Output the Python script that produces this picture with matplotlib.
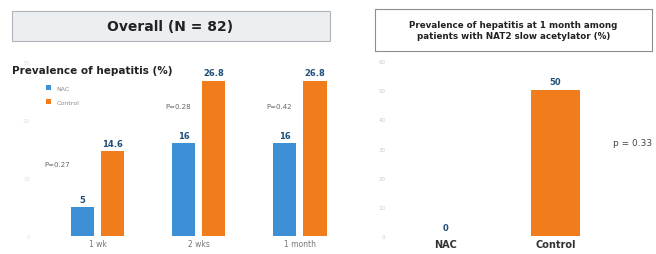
import numpy as np
import matplotlib
matplotlib.use("Agg")
import matplotlib.pyplot as plt
from matplotlib.patches import Rectangle

# data
groups = ["1 wk", "2 wks", "1 month"]
nac_vals = [5, 16, 16]
ctrl_vals = [14.6, 26.8, 26.8]
nac_lbls = ["5", "16", "16"]
ctrl_lbls = ["14.6", "26.8", "26.8"]
p_left = ["P=0.27", "P=0.28", "P=0.42"]

slow_groups = ["NAC", "Control"]
slow_vals = [0, 50]
p_right = "p = 0.33"

blue = "#3d8fd6"
orange = "#f07c1c"

fig = plt.figure(figsize=(6.56, 2.55), dpi=100)

# title boxes
fig.patches.append(Rectangle((0.018, 0.835), 0.485, 0.118, transform=fig.transFigure,
                             facecolor="#eceff2", edgecolor="#b0b4b8", lw=0.8))
fig.text(0.26, 0.893, "Overall (N = 82)", ha="center", va="center",
         fontsize=10, fontweight="bold", color="#222222")
fig.patches.append(Rectangle((0.572, 0.796), 0.422, 0.165, transform=fig.transFigure,
                             facecolor="white", edgecolor="#8a8e92", lw=0.8))
fig.text(0.783, 0.878, "Prevalence of hepatitis at 1 month among\npatients with NAT2 slow acetylator (%)",
         ha="center", va="center", fontsize=6.3, fontweight="bold", color="#222222",
         linespacing=1.3)
fig.text(0.018, 0.72, "Prevalence of hepatitis (%)", ha="left", va="center",
         fontsize=7.5, fontweight="bold", color="#222222")

# left panel
ax = fig.add_axes([0.053, 0.0706, 0.458, 0.682])
x = np.arange(len(groups))
w = 0.23
ax.bar(x - 0.15, nac_vals, w, color=blue, label="NAC")
ax.bar(x + 0.15, ctrl_vals, w, color=orange, label="Control")
for xi, v, t in zip(x - 0.15, nac_vals, nac_lbls):
    ax.text(xi, v + 0.6, t, ha="center", va="bottom", fontsize=6, color="#1f4e79", fontweight="bold")
for xi, v, t in zip(x + 0.15, ctrl_vals, ctrl_lbls):
    ax.text(xi, v + 0.6, t, ha="center", va="bottom", fontsize=6, color="#1f4e79", fontweight="bold")
p_y = [12.5, 22.5, 22.5]
p_x = [-0.4, 0.8, 1.8]
for xi, yi, t in zip(p_x, p_y, p_left):
    ax.text(xi, yi, t, ha="center", va="center", fontsize=5, color="#666666")
ax.set_xlim(-0.62, 2.35)
ax.set_ylim(0, 30)
ax.set_xticks(x)
ax.set_xticklabels(groups, fontsize=5.5, color="#777777")
ax.set_yticks([0, 10, 20, 30])
ax.tick_params(axis="y", labelsize=4, colors="#dddddd", length=0)
ax.tick_params(axis="x", length=0, pad=2)
for s in ax.spines.values():
    s.set_visible(False)
ax.legend(loc="upper left", bbox_to_anchor=(0.02, 0.9), fontsize=4.5, frameon=False,
          handlelength=0.8, handleheight=0.8, labelspacing=1.4, labelcolor="#888888")

# right panel
ax2 = fig.add_axes([0.595, 0.0706, 0.351, 0.686])
x2 = np.arange(len(slow_groups))
ax2.bar(x2, slow_vals, 0.45, color=orange)
for xi, v in zip(x2, slow_vals):
    ax2.text(xi, v + 1.5, str(v), ha="center", va="bottom", fontsize=6,
             color="#1f4e79", fontweight="bold")
ax2.text(1.7, 32, p_right, ha="center", va="center", fontsize=6.5, color="#444444")
ax2.set_xlim(-0.5, 1.59)
ax2.set_ylim(0, 60)
ax2.set_xticks(x2)
ax2.set_xticklabels(slow_groups, fontsize=7, fontweight="bold", color="#333333")
ax2.set_yticks(np.arange(0, 61, 10))
ax2.tick_params(axis="y", labelsize=4, colors="#cccccc", length=0)
ax2.tick_params(axis="x", length=0, pad=2)
for s in ax2.spines.values():
    s.set_visible(False)

fig.savefig("out.png", dpi=100)
